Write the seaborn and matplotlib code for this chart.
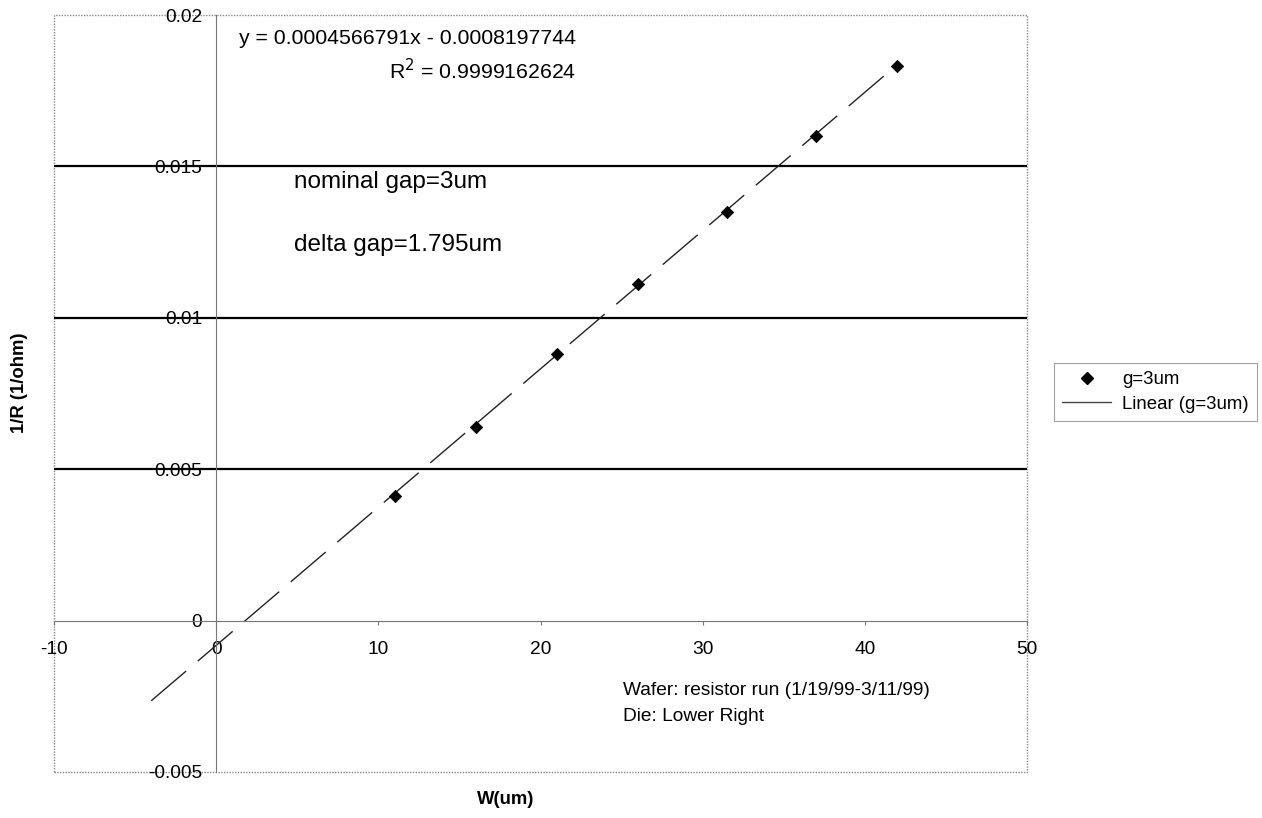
import matplotlib
matplotlib.use('Agg')
import matplotlib.pyplot as plt
from matplotlib.lines import Line2D
from matplotlib.patches import Rectangle
import numpy as np
import pandas as pd
import seaborn as sns

# measured points (g=3um)
width_um = [11, 16, 21, 26, 31.5, 37, 42]
inv_r = [0.0041, 0.0064, 0.0088, 0.0111, 0.0135, 0.0160, 0.0183]

# trendline as reported
slope = 0.0004566791
intercept = -0.0008197744
r_squared = 0.9999162624
trend_x = [-4, 42]

x_ticks = [-10, 0, 10, 20, 30, 40, 50]
y_ticks = [-0.005, 0, 0.005, 0.01, 0.015, 0.02]
y_tick_labels = ['-0.005', '0', '0.005', '0.01', '0.015', '0.02']

sns.set_theme(style='white')
plt.rcParams['font.family'] = ['Liberation Sans', 'DejaVu Sans']
plt.rcParams['text.color'] = 'black'
plt.rcParams['xtick.color'] = 'black'
plt.rcParams['ytick.color'] = 'black'

fig = plt.figure(figsize=(12.62, 8.18), dpi=100)
ax = fig.add_axes([54 / 1262, 1 - 772 / 818, (1027 - 54) / 1262, (772 - 15) / 818])

# horizontal gridlines (inner ticks only)
for yv in y_ticks[1:-1]:
    if yv != 0:
        ax.axhline(yv, color='black', lw=1.6, zorder=1)

# trendline
trend = pd.DataFrame({'x': trend_x})
trend['y'] = slope * trend['x'] + intercept
sns.lineplot(data=trend, x='x', y='y', ax=ax, color='#222222', lw=1.0,
             dashes=False, zorder=2).lines[-1].set_dashes((33, 11))

# points
pts = pd.DataFrame({'W': width_um, 'invR': inv_r})
sns.scatterplot(data=pts, x='W', y='invR', ax=ax, marker='D', s=40,
                color='black', edgecolor='black', zorder=3)

ax.set_xlim(x_ticks[0], x_ticks[-1])
ax.set_ylim(y_ticks[0], y_ticks[-1])
ax.set_xticks(x_ticks)
ax.set_xticklabels([str(t) for t in x_ticks])
ax.set_yticks(y_ticks)
ax.set_yticklabels(y_tick_labels)

# axes crossing at zero
ax.spines['left'].set_position(('data', 0))
ax.spines['bottom'].set_position(('data', 0))
for s in ['left', 'bottom']:
    ax.spines[s].set_color('#777777')
    ax.spines[s].set_linewidth(0.8)
for s in ['top', 'right']:
    ax.spines[s].set_visible(False)

# dotted plot-area border
ax.add_patch(Rectangle((0, 0), 1, 1, transform=ax.transAxes, fill=False,
                       ec='#888888', lw=1.0, ls=(0, (1, 1)), clip_on=False, zorder=0))

ax.tick_params(axis='x', direction='out', length=3, width=0.8, color='#777777',
               labelcolor='black', pad=12, labelsize=13.8, bottom=True)
ax.tick_params(axis='y', length=0, pad=10, labelsize=13.8, labelcolor='black', left=True)
for lab in ax.get_yticklabels():
    lab.set_zorder(5)

ax.set_xlabel('')
ax.set_ylabel('')
fig.text(20 / 1262, 1 - 383 / 818, '1/R (1/ohm)', rotation=90, ha='center', va='center',
         fontsize=13.3, fontweight='bold')
fig.text(506 / 1262, 1 - 800 / 818, 'W(um)', ha='center', va='center',
         fontsize=13.3, fontweight='bold')

# annotations
ax.text(22.2, 0.01924, 'y = %.10fx - %.10f' % (slope, -intercept), ha='right', va='center', fontsize=15.3)
ax.text(22.2, 0.01818, 'R$^2$ = %.10f' % r_squared, ha='right', va='center', fontsize=15.3)
ax.text(4.8, 0.0145, 'nominal gap=3um', ha='left', va='center', fontsize=17.5)
ax.text(4.8, 0.01242, 'delta gap=1.795um', ha='left', va='center', fontsize=17.5)
ax.text(25.1, -0.00232, 'Wafer: resistor run (1/19/99-3/11/99)', ha='left', va='center', fontsize=13.8)
ax.text(25.1, -0.00318, 'Die: Lower Right', ha='left', va='center', fontsize=13.8)

handles = [Line2D([], [], ls='none', marker='D', ms=6, color='black'),
           Line2D([], [], color='#444444', lw=1.0)]
leg = fig.legend(handles, ['g=3um', 'Linear (g=3um)'], loc='upper left',
                 bbox_to_anchor=(1054 / 1262, 1 - 363 / 818), fontsize=13.4,
                 frameon=True, fancybox=False, edgecolor='#888888',
                 handlelength=2.6, borderpad=0.45, labelspacing=0.4, handletextpad=0.6,
                 borderaxespad=0)
leg.get_frame().set_linewidth(0.8)

plt.savefig('out.png', dpi=100)
